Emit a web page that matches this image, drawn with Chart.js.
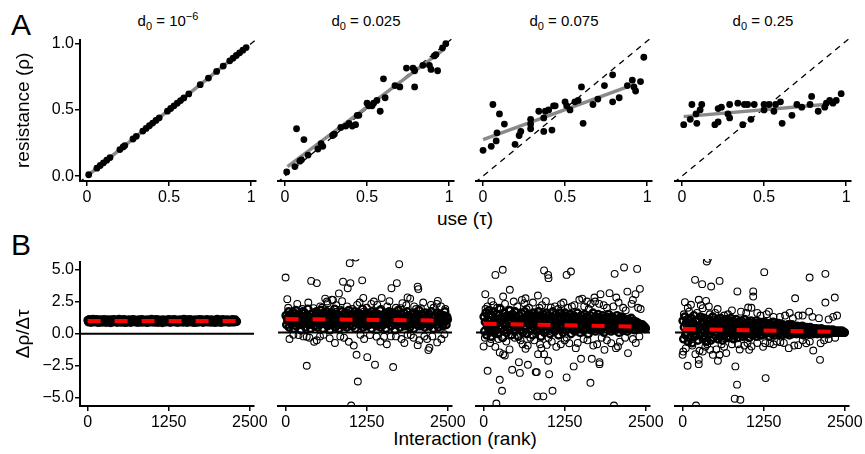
<!DOCTYPE html>
<html>
<head>
<meta charset="utf-8">
<script src="https://cdn.jsdelivr.net/npm/chart.js@4.4.0/dist/chart.umd.min.js"></script>
<style>
  body { margin: 0; background: #fff; width: 865px; height: 454px; position: relative; overflow: hidden;
         font-family: "Liberation Sans", Arial, sans-serif; color: #000; }
  canvas { position: absolute; }
  .txt { position: absolute; white-space: nowrap; line-height: 1; }
  .ttl { position: absolute; white-space: nowrap; top: 13px; font-size: 15px; line-height: 15px; transform: translateX(-50%); }
  .sub { font-size: 11px; position: relative; top: 4px; }
  .sup { font-size: 11px; position: relative; top: -6px; }
</style>
</head>
<body>
<div class="txt" style="left:11px;top:10px;font-size:30px">A</div>
<div class="txt" style="left:11px;top:230px;font-size:30px">B</div>
<div class="txt" style="left:465px;top:209px;font-size:19px;transform:translateX(-50%)">use (τ)</div>
<div class="txt" style="left:465px;top:429px;font-size:19px;transform:translateX(-50%)">Interaction (rank)</div>
<script>
const FONT = '"Liberation Sans", Arial, sans-serif';

// panel titles (d0 values)
const d0Text = ['10', '0.025', '0.075', '0.25'];
const d0Exp = ['−6', '', '', ''];

// ---- row A: resistance vs use ----
const tauRange = [-0.043, 1.03];
const rhoRange = [-0.037, 1.03];
const tauTicks = [0, 0.5, 1];
const rhoTicks = [0, 0.5, 1];
const diagonal = [-0.05, 1.05];

const pointsA1 = [[0.01,0.01],[0.06,0.06],[0.08,0.08],[0.1,0.1],[0.12,0.12],[0.14,0.14],[0.2,0.2],[0.22,0.22],
  [0.23,0.23],[0.28,0.28],[0.3,0.3],[0.34,0.34],[0.36,0.36],[0.38,0.38],[0.4,0.4],[0.42,0.42],[0.44,0.44],
  [0.49,0.49],[0.51,0.51],[0.53,0.53],[0.55,0.55],[0.57,0.57],[0.59,0.59],[0.62,0.62],[0.69,0.69],[0.74,0.74],
  [0.79,0.79],[0.83,0.83],[0.87,0.87],[0.89,0.89],[0.91,0.91],[0.93,0.93],[0.95,0.95],[0.97,0.97]];
const pointsA2 = [[0.01,0.03],[0.06,0.07],[0.09,0.11],[0.1,0.12],[0.07,0.35],[0.115,0.27],[0.14,0.155],[0.2,0.2],
  [0.22,0.24],[0.23,0.22],[0.29,0.3],[0.3,0.31],[0.34,0.36],[0.37,0.37],[0.39,0.39],[0.41,0.37],[0.43,0.38],
  [0.44,0.45],[0.45,0.45],[0.5,0.54],[0.51,0.52],[0.53,0.52],[0.54,0.54],[0.56,0.56],[0.58,0.48],[0.61,0.58],
  [0.6,0.72],[0.67,0.67],[0.7,0.66],[0.74,0.8],[0.78,0.8],[0.79,0.66],[0.79,0.78],[0.84,0.82],[0.88,0.82],
  [0.89,0.79],[0.93,0.78],[0.91,0.89],[0.92,0.9],[0.96,0.95],[0.98,0.98]];
const pointsA3 = [[0.0,0.19],[0.05,0.22],[0.06,0.53],[0.08,0.26],[0.085,0.32],[0.1,0.46],[0.13,0.385],[0.195,0.235],
  [0.22,0.3],[0.23,0.33],[0.29,0.42],[0.29,0.385],[0.29,0.35],[0.34,0.48],[0.37,0.33],[0.37,0.43],[0.38,0.48],
  [0.4,0.49],[0.42,0.34],[0.43,0.52],[0.44,0.52],[0.5,0.55],[0.51,0.52],[0.53,0.49],[0.56,0.55],[0.58,0.56],
  [0.6,0.66],[0.61,0.39],[0.67,0.53],[0.7,0.57],[0.74,0.67],[0.79,0.75],[0.79,0.55],[0.83,0.58],[0.88,0.67],
  [0.91,0.71],[0.92,0.66],[0.93,0.63],[0.96,0.7],[0.98,0.88]];
const pointsA4 = [[0.01,0.38],[0.06,0.53],[0.05,0.42],[0.085,0.46],[0.09,0.39],[0.11,0.49],[0.12,0.53],[0.2,0.38],
  [0.22,0.4],[0.22,0.5],[0.24,0.51],[0.28,0.46],[0.29,0.43],[0.29,0.53],[0.34,0.54],[0.37,0.38],[0.38,0.53],
  [0.4,0.53],[0.42,0.42],[0.44,0.53],[0.5,0.49],[0.5,0.53],[0.53,0.53],[0.56,0.48],[0.57,0.53],[0.6,0.55],
  [0.61,0.39],[0.67,0.45],[0.7,0.53],[0.73,0.51],[0.78,0.53],[0.79,0.59],[0.83,0.48],[0.87,0.51],[0.88,0.54],
  [0.9,0.56],[0.92,0.54],[0.94,0.56],[0.97,0.61]];
const fitA = [[[0.0, 0.0], [0.98, 0.98]], [[0.015, 0.07], [0.97, 0.94]],
  [[0.0, 0.27], [0.88, 0.66]], [[0.01, 0.44], [0.87, 0.53]]];

// ---- row B: delta rho / delta tau vs interaction rank ----
const rankRange = [-117, 2566];
const slopeRange = [-5.64, 5.64];
const rankTicks = [0, 1250, 2500];
const slopeTicks = [-5, -2.5, 0, 2.5, 5];
const trendRanks = [0, 2450];
const trendB = [[1.0, 1.0], [1.03, 0.92], [0.67, 0.44], [0.27, 0.05]];
// band = every n-th interaction, step in ranks
const bandStep = [10, 10, 10, 10];

const bandB1 = [1.05,0.93,1.1,0.98,1.02,0.9,1.08,0.96,1.12,1.0, 0.92,1.04,0.97,1.1,0.95,1.06,0.89,1.01,1.09,0.94,
  1.0,1.07,0.91,1.03,0.97,1.11,0.95,1.02,0.9,1.06, 0.98,1.09,0.93,1.04,1.0,0.88,1.08,0.96,1.03,0.92,
  1.1,0.97,1.01,0.94,1.07,0.9,1.05,0.99,1.12,0.95, 1.02,0.91,1.08,0.97,1.04,0.93,1.1,1.0,0.89,1.06,
  0.96,1.03,0.92,1.09,0.98,1.05,0.9,1.01,1.07,0.94, 1.11,0.97,1.0,0.92,1.06,0.95,1.03,0.9,1.08,0.99,
  0.93,1.05,0.97,1.1,0.91,1.02,0.96,1.07,0.94,1.04, 1.0,0.89,1.09,0.95,1.03,0.92,1.06,0.98,1.12,0.93,
  1.04,0.97,1.08,0.91,1.01,0.95,1.1,0.99,0.9,1.05, 0.96,1.07,0.93,1.02,1.0,0.88,1.09,0.97,1.04,0.94,
  1.06,0.92,1.01,0.98,1.11,0.95,1.03,0.9,1.08,0.99, 0.94,1.05,0.97,1.1,0.92,1.02,0.96,1.07,0.9,1.04,
  1.0,0.93,1.09,0.95,1.06,0.98,1.01,0.91,1.12,0.97, 1.03,0.94,1.08,0.9,1.05,0.99,0.96,1.1,0.92,1.02,
  0.97,1.07,0.93,1.04,0.89,1.0,1.09,0.95,1.03,0.91, 1.06,0.98,1.11,0.94,1.01,0.96,1.08,0.9,1.05,0.97,
  0.92,1.03,1.0,1.1,0.95,1.06,0.93,1.02,0.98,1.09, 0.91,1.04,0.97,1.07,0.94,1.0,0.89,1.05,0.96,1.12,
  1.01,0.93,1.08,0.95,1.03,0.9,1.06,0.99,1.1,0.92, 1.04,0.97,1.02,0.94,1.09,0.96,1.0,0.91,1.07,0.98,
  0.95,1.05,0.92,1.1,0.97,1.03,0.93,1.08,1.0,0.96];
const bandB2 = [1.3,0.6,1.1,0.9,1.6,0.4,1.2,0.8,1.4,0.7, 1.0,1.5,0.3,1.2,0.9,1.7,0.5,1.1,0.8,1.3,
  0.6,1.4,1.0,0.2,1.2,0.9,1.6,0.7,1.1,1.5, 0.4,1.0,1.3,0.8,1.8,0.6,1.2,0.9,0.3,1.4,
  1.1,0.7,1.5,1.0,0.5,1.3,0.8,1.6,1.2,0.4, 0.9,1.4,0.6,1.1,1.7,0.8,1.0,0.3,1.3,1.5,
  0.7,1.2,0.9,1.6,0.5,1.1,1.4,0.8,0.2,1.0, 1.3,0.6,1.5,1.0,0.9,1.8,0.4,1.2,0.7,1.1,
  1.4,0.8,0.3,1.3,1.0,0.6,1.6,0.9,1.2,0.5, 1.1,1.5,0.7,1.0,0.4,1.3,0.8,1.7,1.0,0.6,
  1.2,0.9,1.4,0.5,1.1,0.8,1.6,0.3,1.0,1.3, 0.7,1.5,0.9,1.2,0.6,1.0,1.4,0.8,1.8,0.4,
  1.1,0.7,1.3,1.0,0.5,1.5,0.9,1.2,0.6,1.4, 0.8,1.1,0.3,1.6,1.0,0.7,1.3,0.9,1.5,0.5,
  1.2,0.8,1.4,0.6,1.0,1.7,0.4,1.1,0.9,1.3, 0.6,1.2,1.0,1.5,0.3,0.9,1.3,0.7,1.1,1.6,
  0.8,1.4,0.5,1.0,1.2,0.7,1.5,0.9,0.2,1.1, 1.3,0.6,1.0,1.7,0.8,1.2,0.4,1.4,0.9,1.0,
  0.7,1.1,1.5,0.5,1.2,0.8,1.0,1.6,0.6,1.3, 0.9,0.4,1.2,1.0,1.4,0.7,1.1,0.3,1.5,0.8,
  1.0,1.3,0.6,1.1,0.9,1.7,0.5,1.2,0.8,1.4, 0.6,1.0,1.3,0.8,0.4,1.5,0.9,1.1,0.7,1.2,
  1.4,0.5,1.0,0.9,1.6,0.7,1.2,0.3,1.1,0.8, 1.3,0.9,0.6,1.5,1.0,0.4,1.2,0.8,1.4,0.7,
  1.0,1.1,0.5,1.3,0.8,1.6,0.9,0.6,1.2,1.0];
const bandB3 = [1.2,0.1,0.8,1.5,-0.2,0.6,1.0,0.3,1.7,0.5, 0.9,-0.3,1.3,0.4,0.7,1.6,0.0,1.1,0.6,0.2,
  1.4,0.8,-0.1,1.0,0.5,1.8,0.3,0.9,1.2,-0.4, 0.7,1.5,0.2,1.1,0.6,0.0,1.3,0.4,0.9,1.7,
  0.3,1.0,-0.2,0.8,1.4,0.5,1.1,0.1,1.6,0.7, 1.2,0.4,0.9,-0.3,1.3,0.6,1.0,0.2,1.5,0.8,
  0.0,1.1,0.5,1.6,0.3,0.9,-0.1,1.2,0.7,1.4, 0.6,1.0,0.2,1.3,0.8,-0.2,1.5,0.4,1.1,0.7,
  1.3,0.1,0.9,0.5,1.6,0.3,1.0,0.8,-0.3,1.2, 0.4,1.4,0.7,0.0,1.1,0.6,1.5,0.2,0.9,1.3,
  0.5,1.0,-0.1,1.2,0.8,0.3,1.6,0.6,1.1,0.1, 0.9,1.4,0.4,0.7,1.2,-0.2,1.0,0.5,1.5,0.3,
  1.1,0.6,0.0,1.3,0.8,1.5,0.2,0.9,0.5,1.2, 0.3,1.0,0.7,1.4,-0.1,0.6,1.1,0.4,1.3,0.8,
  0.1,1.2,0.5,0.9,1.5,0.3,0.8,1.1,0.0,0.7, 1.3,0.4,1.0,0.6,0.2,1.4,0.7,0.9,1.2,0.3,
  0.8,-0.1,1.1,0.5,1.3,0.2,0.9,0.6,1.5,0.4, 1.0,0.7,0.1,1.2,0.5,0.9,1.4,0.3,0.8,1.1,
  0.2,1.0,0.6,1.3,0.4,0.0,1.1,0.7,0.9,1.2, 0.5,0.8,1.4,0.3,1.0,0.6,0.1,1.2,0.4,0.9,
  1.1,0.2,0.7,1.0,0.5,1.3,0.3,0.8,0.0,1.0, 0.6,1.2,0.4,0.9,0.2,1.1,0.7,0.5,1.0,0.3,
  0.8,0.1,1.0,0.6,0.9,0.3,0.7,1.1,0.4,0.8, 0.5,0.9,0.2,0.7,0.4,0.8,0.6,0.3,0.7,0.5,
  0.6,0.4,0.5,0.3,0.6,0.4,0.5,0.3,0.4,0.3];
const bandB4 = [0.9,-0.5,0.4,1.2,-0.2,0.7,0.0,1.0,-0.7,0.3, 0.6,-0.4,1.1,0.2,-0.8,0.8,0.1,1.3,-0.3,0.5,
  -0.1,0.9,0.3,-0.6,1.0,0.4,-0.2,1.2,0.0,0.7, 0.2,-0.5,0.8,1.1,-0.3,0.5,-0.7,0.9,0.1,0.6,
  1.0,-0.1,0.4,-0.6,0.7,0.2,1.2,-0.4,0.3,0.8, -0.2,0.6,0.0,1.0,-0.5,0.4,0.8,-0.3,1.1,0.2,
  0.5,-0.6,0.9,0.1,-0.2,0.7,0.3,1.0,-0.4,0.6, 0.0,0.8,-0.3,0.5,1.1,-0.1,0.4,0.9,-0.5,0.2,
  0.7,-0.2,1.0,0.3,-0.4,0.6,0.1,0.8,-0.1,0.5, 0.9,0.0,-0.3,0.6,0.2,1.0,-0.2,0.4,0.7,-0.1,
  0.3,0.8,-0.4,0.5,0.0,0.9,0.2,-0.2,0.6,0.1, 0.7,-0.1,0.4,0.9,-0.3,0.3,0.6,0.0,0.8,-0.2,
  0.2,0.5,-0.2,0.7,0.1,0.4,0.8,-0.1,0.3,0.6, 0.0,0.6,0.3,-0.3,0.7,0.2,0.5,-0.1,0.4,0.8,
  0.1,0.5,-0.2,0.3,0.6,0.0,0.4,0.7,-0.1,0.2, 0.5,0.1,0.4,-0.2,0.6,0.2,0.0,0.5,0.3,-0.1,
  0.4,0.0,0.6,0.2,-0.2,0.5,0.1,0.3,0.6,-0.1, 0.2,0.5,0.0,0.3,0.4,-0.1,0.5,0.1,0.3,0.0,
  0.4,-0.1,0.3,0.1,0.5,0.2,-0.2,0.4,0.0,0.3, 0.1,0.4,0.0,0.3,-0.1,0.2,0.4,0.1,0.0,0.3,
  0.2,-0.1,0.3,0.1,0.2,0.0,0.3,-0.1,0.2,0.1, 0.0,0.2,0.1,0.3,-0.1,0.1,0.2,0.0,0.1,0.2,
  0.1,0.0,0.2,0.1,-0.1,0.1,0.2,0.0,0.1,0.0, 0.1,0.2,0.0,0.1,0.0,0.1,0.0,0.1,0.1,0.0,
  0.1,0.0,0.1,0.0,0.1,0.0,0.1,0.0,0.0,0.0];

// scattered interactions off the band: [rank, value]
const outB1 = [];
const outB2 = [[0,4.22],[26,2.56],[394,3.96],[481,3.79],[988,5.32],[1080,5.75],[885,3.9],[957,3.4],[999,3.79],
  [1180,4.0],[822,3.0],[1197,2.65],[714,2.51],[647,2.25],[1481,2.65],[1750,5.24],[1714,3.79],[1631,3.4],
  [2035,3.52],[2045,3.33],[1879,2.69],[1800,2.25],[2345,2.43],[326,-2.55],[1093,-1.71],[1258,-1.89],
  [1377,-2.47],[1657,-2.65],[1113,-3.76],[1010,-5.6],[326,-0.32],[367,-0.4],[440,-0.71],[679,-0.45],
  [974,-0.71],[1403,-0.32],[1517,-0.32],[1786,-0.5],[1972,-0.4],[2035,-0.97],[2180,-0.5],[2335,-0.76],
  [2200,-1.35],[2216,-1.17],[637,2.38],[730,2.5],[1360,2.38],[1412,2.12],[1567,2.0],[1774,1.87],[1981,2.0],
  [2085,1.87],[2240,2.12],[2395,2.0],[430,1.87],[533,2.0],[1102,2.12],[947,2.0],[1207,1.6],[843,1.75],
  [120,1.6],[120,-0.18],[275,-0.3],[585,-0.18],[843,-0.3],[1154,-0.18],[1620,-0.3],[1879,-0.18],
  [2137,-0.3],[2447,-0.13],
  [40,1.9],[180,2.2],[260,1.8],[350,2.3],[560,1.9],[610,2.6],[780,2.1],[870,2.4],[1030,1.8],[1140,2.3],
  [1250,1.9],[1320,2.2],[1470,1.8],[1600,2.4],[1700,1.9],[1860,2.1],[1920,2.6],[2010,1.8],[2120,2.3],
  [2280,1.9],[2330,2.2],[2460,1.8],[60,-0.5],[200,-0.2],[480,-0.6],[530,-0.3],[760,-0.8],[900,-0.4],
  [1050,-1.0],[1210,-0.5],[1300,-0.2],[1460,-0.7],[1560,-0.9],[1700,-0.3],[1830,-0.8],[1930,-0.2],
  [2060,-0.6],[2260,-0.3],[2400,-0.5]];
const outB3 = [[182,4.42],[295,4.81],[932,4.76],[994,4.42],[1000,4.17],[1279,4.42],[1346,4.68],[2019,4.5],
  [2164,4.99],[2366,4.88],[2408,3.35],[26,2.94],[404,3.28],[301,2.76],[646,2.63],[837,2.84],[630,2.25],
  [464,2.38],[1036,1.92],[1191,2.17],[1475,2.51],[1594,2.38],[1708,2.68],[1801,2.94],[1940,3.02],[2044,2.68],
  [2215,3.14],[2340,2.94],[1718,2.38],[0,-1.07],[62,-2.94],[249,-1.53],[249,-3.63],[301,-1.66],[327,-1.76],
  [284,-4.47],[197,-5.45],[440,-2.86],[544,-2.28],[559,-3.1],[683,-2.48],[803,-3.04],[819,-3.04],[839,-1.66],
  [932,-1.66],[1010,-3.2],[994,-2.17],[828,-4.9],[921,-4.9],[1062,-4.47],[1279,-3.45],[1388,-2.6],[1501,-2.02],
  [1646,-3.86],[1667,-2.02],[1786,-2.28],[1786,-2.43],[2008,-5.6],[2225,-1.58],[2345,-0.8],[646,-1.25],
  [890,-1.2],[973,-0.95],[1190,-0.9],[1320,-0.82],[1862,-1.33],[1966,-0.82],[2070,-1.07],[114,-0.5],[570,-0.6],
  [60,2.0],[150,2.1],[250,1.9],[520,2.0],[700,1.9],[900,2.1],[1100,2.0],[1300,1.9],[1400,2.1],[1550,2.0],
  [1650,2.2],[1850,2.1],[2000,2.0],[2150,1.9],[2280,2.2],[2420,1.8],[100,-0.8],[350,-0.7],[600,-0.9],
  [780,-0.6],[1050,-0.7],[1250,-0.6],[1450,-0.8],[1600,-0.6],[1750,-0.9],[1900,-0.6],[2100,-0.7],[2300,-0.5],
  [30,1.8],[120,2.4],[210,1.9],[330,2.2],[420,1.7],[590,2.5],[660,1.8],[760,2.3],[860,1.9],[960,2.4],
  [1150,1.8],[1230,2.3],[1360,2.0],[1520,2.6],[1620,1.8],[1780,2.2],[1900,1.9],[2080,2.3],[2190,1.7],
  [2300,2.5],[2380,1.9],[20,-0.4],[180,-1.1],[230,-0.5],[400,-1.3],[480,-0.4],[680,-1.0],[720,-0.4],
  [870,-0.9],[1000,-0.4],[1120,-1.1],[1280,-0.4],[1420,-1.2],[1540,-0.5],[1690,-1.0],[1820,-0.4],
  [2040,-1.2],[2180,-0.4],[2400,-0.3]];
const outB4 = [[373,5.45],[389,5.65],[192,4.04],[301,3.71],[440,3.53],[570,3.96],[844,3.15],[1088,3.15],
  [1088,2.76],[1258,4.63],[1734,2.63],[1957,4.22],[2200,4.5],[2200,2.3],[2345,2.68],[36,2.33],[129,2.13],
  [249,2.51],[362,2.43],[404,2.0],[311,1.87],[1010,1.92],[1295,1.41],[1580,1.3],[1786,1.3],[2380,1.3],
  [0,-1.71],[10,-1.46],[77,-2.55],[249,-2.43],[249,-2.1],[197,-1.66],[311,-1.46],[425,-1.33],[466,-1.71],
  [544,-2.17],[570,-1.71],[673,-1.58],[813,-2.6],[839,-4.0],[803,-5.08],[890,-5.16],[207,-5.6],[1279,-3.5],
  [1026,-1.33],[1062,-1.07],[854,-0.9],[1274,-0.82],[1506,-0.74],[1636,-1.2],[1781,-0.97],[2013,-1.38],
  [2117,-2.1],[2127,-0.82],[1905,-0.82],[1346,-0.82],[100,1.6],[500,1.5],[700,1.4],[900,1.6],[1150,1.5],
  [1400,1.2],[1700,1.1],[2000,1.2],[2250,1.0],[150,-1.0],[350,-1.1],[600,-0.9],[950,-1.0],[1150,-0.8],
  [1450,-0.7],[1850,-0.6],[2250,-0.5],
  [20,1.4],[80,1.9],[220,1.5],[280,2.1],[420,1.4],[540,1.8],[640,1.3],[760,1.7],[980,1.5],[1060,1.9],
  [1200,1.3],[1330,1.6],[1500,1.2],[1650,1.5],[1850,1.3],[1950,1.6],[2100,1.1],[2320,1.2],[50,-1.2],
  [260,-1.4],[380,-0.9],[520,-1.3],[640,-1.1],[760,-0.9],[880,-1.3],[1000,-0.8],[1240,-1.1],[1400,-0.9],
  [1560,-0.8],[1720,-1.0],[1960,-0.7],[2180,-0.6],[2350,-0.4]];

const pointsA = [pointsA1, pointsA2, pointsA3, pointsA4];
const bandB = [bandB1, bandB2, bandB3, bandB4];
const outB = [outB1, outB2, outB3, outB4];

// layout
const panelLeft = [80, 278, 476, 675];
const panelWidth = 176;
const rowTop = [37, 259];
const rowHeight = [144, 147];

function addCanvas(left, top, w, h) {
    const c = document.createElement('canvas');
    c.width = w; c.height = h;
    c.style.left = left + 'px'; c.style.top = top + 'px';
    c.style.width = w + 'px'; c.style.height = h + 'px';
    document.body.appendChild(c);
    return c;
}

function makeAxis(range, ticks, fmt, show, isY, title) {
    const axis = {
        type: 'linear', display: show, min: range[0], max: range[1],
        afterBuildTicks: s => { s.ticks = ticks.map(v => ({ value: v })); },
        grid: { drawOnChartArea: false, drawTicks: true, tickLength: 5, color: '#000', lineWidth: 1.5 },
        border: { display: true, color: '#000', width: 2 },
        ticks: { color: '#000', font: { family: FONT, size: 16 }, padding: isY ? 1 : 2,
                 maxRotation: 0, autoSkip: false, callback: fmt }
    };
    if (isY) {
        // y axis only shown on the first panel of a row
        axis.afterFit = s => { s.width = show ? 80 : 0; };
        axis.title = { display: !!title, text: title, color: '#000',
                       font: { family: FONT, size: 19 }, padding: { top: 12, bottom: 0 } };
    } else {
        axis.afterFit = s => { s.height = 30; };
    }
    return axis;
}

const fmtTau = v => String(v);
const fmtRho = v => v.toFixed(1);
const fmtRank = v => String(v);
const fmtSlope = v => (v < 0 ? '−' + (-v).toFixed(1) : v.toFixed(1));

function panelCanvas(i, row) {
    const padL = i === 0 ? 0 : 10;
    const yW = i === 0 ? 80 : 0;
    const left = panelLeft[i] - padL - yW;
    const top = rowTop[row] - 8;
    return { canvas: addCanvas(left, top, padL + yW + panelWidth + 14, 8 + rowHeight[row] + 30), padL };
}

function lineSet(pts, color, width, dash, order) {
    return { type: 'scatter', data: pts, showLine: true, borderColor: color, borderWidth: width,
             borderDash: dash, pointRadius: 0, order, borderCapStyle: 'butt' };
}

function ringSet(pts, width, order) {
    return { data: pts, pointRadius: 3.4, backgroundColor: 'rgba(0,0,0,0)', borderColor: '#000',
             borderWidth: width, order };
}

const common = (padL) => ({
    responsive: false, animation: false, events: [],
    layout: { padding: { left: padL, right: 14, top: 8, bottom: 0 }, autoPadding: false },
    plugins: { legend: { display: false }, tooltip: { enabled: false } }
});

// titles
d0Text.forEach((t, i) => {
    const d = document.createElement('div');
    d.className = 'ttl';
    d.style.left = (panelLeft[i] + panelWidth / 2) + 'px';
    d.innerHTML = 'd<span class="sub">0</span> = ' + t + (d0Exp[i] ? '<span class="sup">' + d0Exp[i] + '</span>' : '');
    document.body.appendChild(d);
});

// row A
for (let i = 0; i < 4; i++) {
    const { canvas, padL } = panelCanvas(i, 0);
    const fit = fitA[i].map(p => ({ x: p[0], y: p[1] }));
    new Chart(canvas.getContext('2d'), {
        type: 'scatter',
        data: { datasets: [
            { data: pointsA[i].map(p => ({ x: p[0], y: p[1] })), pointRadius: 3.4,
              backgroundColor: '#000', borderColor: '#000', borderWidth: 0, order: 0 },
            lineSet(fit, '#8a8a8a', 3.5, [], 1),
            lineSet(diagonal.map(v => ({ x: v, y: v })), '#000', 1.3, [6, 5], 2)
        ] },
        options: Object.assign(common(padL), {
            scales: {
                x: makeAxis(tauRange, tauTicks, fmtTau, true, false),
                y: makeAxis(rhoRange, rhoTicks, fmtRho, i === 0, true, 'resistance (ρ)')
            }
        })
    });
}

// row B
for (let i = 0; i < 4; i++) {
    const { canvas, padL } = panelCanvas(i, 1);
    const band = bandB[i].map((v, k) => ({ x: (k + 0.5) * bandStep[i], y: v }));
    const out = outB[i].map(p => ({ x: p[0], y: p[1] }));
    new Chart(canvas.getContext('2d'), {
        type: 'scatter',
        data: { datasets: [
            lineSet(trendRanks.map((r, k) => ({ x: r, y: trendB[i][k] })), '#ff0000', 4, [13, 14], 0),
            lineSet(rankRange.map(r => ({ x: r, y: 0 })), '#000', 2, [], 1),
            ringSet(band, 2.4, 2),
            ringSet(out, 1.1, 3)
        ] },
        options: Object.assign(common(padL), {
            scales: {
                x: makeAxis(rankRange, rankTicks, fmtRank, true, false),
                y: makeAxis(slopeRange, slopeTicks, fmtSlope, i === 0, true, 'Δρ/Δτ')
            }
        })
    });
}
</script>
</body>
</html>
